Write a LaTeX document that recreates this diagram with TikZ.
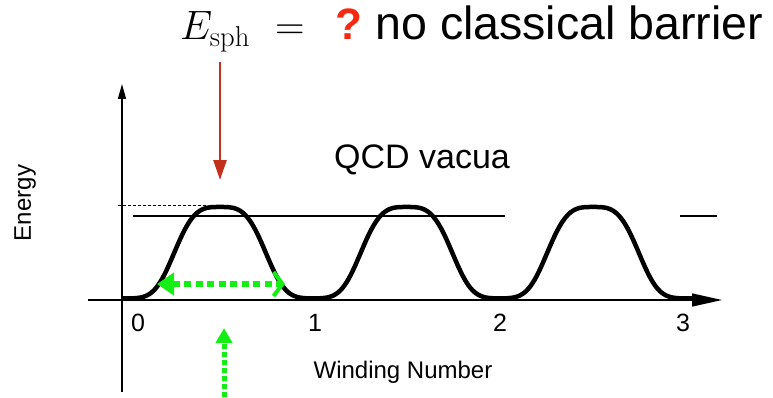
\RequirePackage{fix-cm}
\documentclass[tikz,border=0pt]{standalone}
\usepackage{fontspec}
\setsansfont{Liberation Sans}
\usetikzlibrary{arrows.meta}
\definecolor{cSph}{HTML}{C2301C}
\definecolor{cQuery}{HTML}{F52A10}
\definecolor{cTunnel}{HTML}{14EE14}
\tikzset{
  axisline/.style  ={line width=1.4pt, draw=black},
  vacuum/.style    ={line width=4.5pt, draw=black, line join=round},
  level/.style     ={line width=1.6pt, draw=black},
  peakmark/.style  ={line width=0.9pt, draw=black, dash pattern=on 3pt off 2pt},
  sphero/.style    ={-{Triangle[length=20pt, width=13pt]}, line width=2.6pt, draw=cSph},
  tunnel/.style    ={{Triangle[length=17pt, width=22pt]}-{Straight Barb[length=9pt, width=24pt, line width=4pt]},
                     line width=6pt, draw=cTunnel, dash pattern=on 7pt off 4.5pt},
  tunnelup/.style  ={-{Triangle[length=15pt, width=16pt]}, line width=5pt, draw=cTunnel,
                     dash pattern=on 5pt off 3pt},
  axislabel/.style ={font=\sffamily\fontsize{24}{28}\selectfont, inner sep=0pt},
  ticklabel/.style ={font=\sffamily\fontsize{25}{28}\selectfont, inner sep=0pt},
  bigtext/.style   ={font=\sffamily\fontsize{46.5}{50}\selectfont, inner sep=0pt}
}

\begin{document}
\begin{tikzpicture}[x=1pt, y=1pt]
  \useasboundingbox (0,0) rectangle (773,397);

  % ====================== Axes ======================
  \coordinate (ybot)  at (122,5);
  \coordinate (ytop)  at (122,313);
  \coordinate (xleft) at (88,97);
  \coordinate (xright) at (722,97);
  \draw[axisline, -{Triangle[length=15pt, width=8pt]}]  (ybot)  -- (ytop);
  \draw[axisline, -{Triangle[length=30pt, width=13pt]}] (xleft) -- (xright);

  \node[axislabel, rotate=90] (energy)  at (25,194) {Energy};
  \node[axislabel]            (winding) at (403,25) {Winding Number};
  \foreach \n/\xpos in {0/138, 1/315, 2/500, 3/683}
    \node[ticklabel] (tick\n) at (\xpos,74) {\n};

  % ====================== Vacuum energy curve ======================
  % one rounded bump per period, peaks at 220 + 186.5 k
  \draw[vacuum] plot[domain=-0.025:3.08, samples=300]
    ({126.75+186.5*\x}, {98.5+91.5*exp(-(abs(186.5*(\x-floor(\x)-0.5))/51)^3.4)});

  % ====================== Levels ======================
  \coordinate (lvlA) at (133,181);
  \coordinate (lvlB) at (505,181);
  \coordinate (lvlC) at (680,181);
  \coordinate (lvlD) at (717,181);
  \draw[level] (lvlA) -- (lvlB);
  \draw[level] (lvlC) -- (lvlD);
  \coordinate (pkA) at (118,192);
  \coordinate (pkB) at (207,192);
  \draw[peakmark] (pkA) -- (pkB);

  \node[bigtext, font=\sffamily\fontsize{34}{38}\selectfont] (vacua) at (422,237) {QCD vacua};

  % ====================== Sphaleron arrow & title ======================
  \node[bigtext, anchor=base west] (title) at (180,357)
    {{\rmfamily\fontsize{41}{44}\selectfont$E_{\mathrm{sph}}$\hspace{25pt}$=$}\hspace{31pt}%
     {\fontsize{44}{44}\selectfont\bfseries\color{cQuery}?}\hspace{13pt}no classical barrier};
  \coordinate (sphtop) at (220,335);
  \coordinate (sphtip) at (220,217);
  \draw[sphero] (sphtop) -- (sphtip);

  % ====================== Tunnelling arrows ======================
  \coordinate (tunL) at (157,113);
  \coordinate (tunR) at (285,113);
  \draw[tunnel] (tunL) -- (tunR);
  \coordinate (upbot) at (224,0);
  \coordinate (uptip) at (224,69);
  \draw[tunnelup] (upbot) -- (uptip);

\end{tikzpicture}
\end{document}
